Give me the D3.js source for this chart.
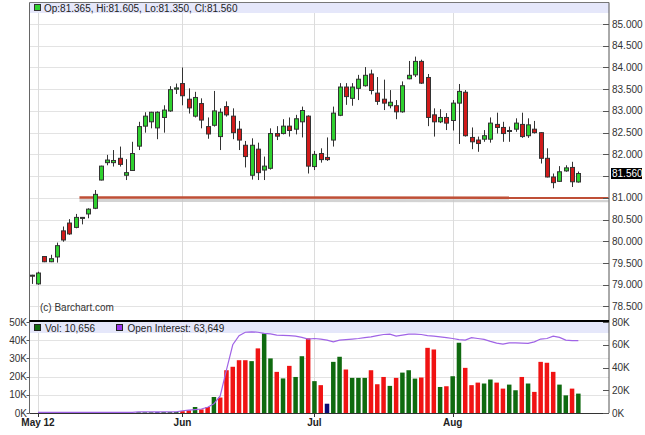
<!DOCTYPE html>
<html><head><meta charset="utf-8">
<script src="https://cdn.jsdelivr.net/npm/d3@7"></script>
<style>body{margin:0;background:#fff}svg{display:block;font-family:"Liberation Sans",Arial,sans-serif}</style>
</head><body><svg id="c" width="645" height="435"></svg>
<script>
// ---- data ----
const opens  = [79.22,79.02,79.65,79.53,79.64,80.24,80.42,80.32,80.55,80.63,80.76,81.41,81.81,81.81,81.91,81.52,81.63,82.19,82.65,82.75,82.61,82.85,83.00,83.50,83.63,83.27,82.88,83.17,82.64,82.67,82.41,83.10,82.88,82.58,82.21,81.52,82.12,81.64,81.68,82.48,82.48,82.65,82.58,82.75,82.88,81.72,82.02,81.93,82.33,82.90,83.55,83.29,83.52,83.58,83.85,83.41,83.27,83.12,83.12,82.98,83.74,83.83,84.14,83.77,82.91,82.75,82.85,82.78,83.18,83.43,82.39,82.33,82.35,82.35,82.69,82.62,82.55,82.58,82.69,82.43,82.58,82.50,81.91,81.48,81.38,81.62,81.70,81.365];
const highs  = [79.23,79.30,79.66,79.69,79.97,80.34,80.51,80.63,80.56,80.76,81.18,81.74,81.99,82.10,82.18,81.89,82.29,82.75,82.97,82.98,82.99,83.13,83.57,83.63,84.00,83.52,83.44,83.29,82.85,83.46,83.06,83.22,83.06,82.77,82.31,82.37,82.27,81.95,82.60,82.65,82.81,82.85,82.91,83.10,82.90,82.08,82.14,82.39,83.10,83.64,83.64,83.64,83.83,84.01,83.95,83.78,83.72,83.48,83.25,83.68,84.15,84.25,84.18,83.85,83.06,83.04,82.95,83.25,83.62,83.48,82.62,82.41,82.56,82.85,82.96,82.75,82.64,82.83,82.96,82.83,82.77,82.51,82.14,81.56,81.73,81.75,81.83,81.605];
const lows   = [79.02,79.00,79.52,79.52,79.51,79.99,80.15,80.30,80.39,80.53,80.74,81.40,81.75,81.72,81.72,81.41,81.62,82.10,82.50,82.60,82.35,82.50,82.98,83.39,83.13,82.94,82.85,82.60,82.36,82.64,82.10,82.87,82.35,82.10,81.70,81.42,81.41,81.41,81.65,82.33,82.46,82.41,82.46,82.39,81.56,81.64,81.81,81.85,82.18,82.88,83.14,83.12,83.25,83.56,83.38,83.14,83.02,83.06,82.81,82.96,83.73,83.78,83.62,82.65,82.41,82.72,82.56,82.55,82.24,82.41,82.12,82.06,82.29,82.27,82.48,82.29,82.29,82.52,82.38,82.38,82.48,81.79,81.47,81.22,81.37,81.60,81.25,81.35];
const closes = [79.21,79.27,79.53,79.60,79.90,80.03,80.17,80.55,80.55,80.74,81.08,81.73,81.87,81.86,81.77,81.58,82.02,82.64,82.88,82.97,82.97,83.02,83.49,83.53,83.35,83.07,83.31,82.79,82.47,83.00,82.97,82.91,82.50,82.33,81.95,82.21,81.58,81.73,82.48,82.42,82.65,82.55,82.82,83.01,81.73,82.00,81.88,81.88,82.95,83.55,83.33,83.55,83.73,83.82,83.47,83.22,83.18,83.20,82.98,83.58,83.82,84.14,83.64,82.85,82.75,82.85,82.72,83.18,83.45,82.43,82.29,82.25,82.43,82.72,82.62,82.48,82.55,82.72,82.41,82.68,82.50,81.91,81.48,81.35,81.60,81.69,81.37,81.56];
const volumeK = [0,0,0,0,0,0,0,0,0,0,0,0,0,0,0,0,0,0.4,0.4,0.4,0.4,0.5,0.5,0.6,1.0,1.5,3.3,2.0,3.3,8.8,8.5,23.5,25.4,29,29,28.5,35.5,43.7,30,22.6,19,25.9,19.8,31.2,41,17.5,15.3,5.1,28.1,30.9,23.9,19.3,19.3,19.3,23.5,15.8,19.8,14.9,19.3,22.2,23.5,18.9,19.5,35.8,34.9,14.3,14.7,20.2,38.6,24.8,15.3,16.7,16.2,18.4,16.7,13.4,15.6,12.5,19.8,16.2,11.6,28.1,27.6,22.6,15.6,9.7,13.4,10.656];
const openInterestK = [0.5,0.5,0.5,0.5,0.5,0.5,0.5,0.5,0.5,0.5,0.5,0.5,0.5,0.5,0.5,0.5,0.5,1.0,1.0,1.0,1.0,1.0,1.0,1.0,2.0,2.5,3.0,3.5,5.0,8.0,15,38,60,68,71,71.4,71,70,69.5,68.5,68.2,68,67.5,66.5,65,65.5,65,64,62.6,64,64.5,65,65.5,66.2,67,68,69,69.4,67.6,68.5,69.4,69.3,69,68,67.6,67,66.2,65.5,64.5,64.1,66.2,65.5,64.7,63,61.5,60.6,61.7,61.7,61.5,61.2,62.5,65,65.5,67.6,66.5,64.1,63.6,63.649];
const monthTickIndex  = [1, 24, 45, 67];
const monthTickLabels = ["May 12", "Jun", "Jul", "Aug"];
const priceTicks = [78.5,79,79.5,80,80.5,81,81.5,82,82.5,83,83.5,84,84.5,85];
const volTicksK  = [0,10,20,30,40,50];
const oiTicksK   = [0,20,40,60,80];
const supportLine = [{i:7.6, p:81.01}, {i:91.8, p:81.0}];

// ---- layout ----
const svg = d3.select("#c");
const L = 29.5, R = 609, TOP = 3, VTOP = 321, VBOT = 413;
const x  = d3.scaleLinear().domain([-0.35, 91.88]).range([L, R]);
const y  = d3.scaleLinear().domain([78.212, 85.484]).range([319, TOP]);
const vy = d3.scaleLinear().domain([0, 50]).range([VBOT, 322]);
const oy = d3.scaleLinear().domain([0, 80]).range([VBOT, 322]);
const px = v => Math.round(v) + 0.5;
const n = closes.length;
const idx = d3.range(n);

const GREEN = "#2fd12f", RED = "#d11a1a", VGREEN = "#0f6a0f", VRED = "#f01313", VNAVY = "#0b0b72";
const OI = "#a064e6", BAND = "#e5e7fa", GRID = "#e3e3e3";

// grids
const g = svg.append("g");
g.selectAll(".hg").data(priceTicks).join("line")
  .attr("x1", L).attr("x2", R).attr("y1", d => px(y(d))).attr("y2", d => px(y(d)))
  .attr("stroke", GRID);
g.selectAll(".vg").data(volTicksK.slice(1, -1)).join("line")
  .attr("x1", L).attr("x2", R).attr("y1", d => px(vy(d))).attr("y2", d => px(vy(d)))
  .attr("stroke", GRID);
g.selectAll(".mg").data(monthTickIndex).join("line")
  .attr("x1", d => px(x(d))).attr("x2", d => px(x(d))).attr("y1", TOP).attr("y2", VBOT)
  .attr("stroke", "#dcdcdc");

// legend bands
svg.append("rect").attr("x", L).attr("y", TOP).attr("width", R - L).attr("height", 10).attr("fill", BAND);
svg.append("rect").attr("x", L).attr("y", 322).attr("width", R - L).attr("height", 11).attr("fill", BAND);

// support trend line with shadow
const sl = d3.line().x(d => x(d.i)).y(d => y(d.p));
svg.append("path").datum(supportLine).attr("d", sl).attr("fill", "none")
  .attr("stroke", "#c8c8c8").attr("stroke-width", 3).attr("transform", "translate(0,3)").attr("opacity", 0.8);
svg.append("path").datum(supportLine).attr("d", sl).attr("fill", "none")
  .attr("stroke", "#bf4f36").attr("stroke-width", 2.5);

// candles
const cg = svg.append("g");
cg.selectAll("line").data(idx).join("line")
  .attr("x1", i => px(x(i))).attr("x2", i => px(x(i)))
  .attr("y1", i => y(highs[i])).attr("y2", i => y(lows[i]))
  .attr("stroke", "#333").attr("stroke-width", 1);
cg.selectAll("rect").data(idx).join("rect")
  .attr("x", i => Math.round(x(i)) - 2 + 0.5)
  .attr("width", 4)
  .attr("y", i => Math.min(y(opens[i]), y(closes[i])))
  .attr("height", i => Math.max(1, Math.abs(y(opens[i]) - y(closes[i]))))
  .attr("fill", i => closes[i] >= opens[i] ? GREEN : RED)
  .attr("stroke", "#333").attr("stroke-width", 1);

// volume bars
svg.append("g").selectAll("rect").data(idx.filter(i => volumeK[i] > 0)).join("rect")
  .attr("x", i => x(i) - 2.25).attr("width", 4.5)
  .attr("y", i => vy(volumeK[i])).attr("height", i => VBOT - vy(volumeK[i]))
  .attr("fill", i => i === 0 || closes[i] === closes[i - 1] ? VNAVY : (closes[i] > closes[i - 1] ? VGREEN : VRED));

// open interest line
svg.append("path").datum(idx.slice(1)).attr("fill", "none").attr("stroke", OI).attr("stroke-width", 1.2)
  .attr("d", d3.line().x(i => x(i)).y(i => oy(openInterestK[i])));

// frame lines
svg.append("line").attr("x1", L).attr("x2", R).attr("y1", 2.5).attr("y2", 2.5).attr("stroke", "#777");
svg.append("line").attr("x1", L).attr("x2", L).attr("y1", 2.5).attr("y2", VBOT).attr("stroke", "#666");
svg.append("line").attr("x1", R).attr("x2", R).attr("y1", 2.5).attr("y2", VBOT).attr("stroke", "#555");
svg.append("line").attr("x1", L).attr("x2", R).attr("y1", VTOP).attr("y2", VTOP).attr("stroke", "#000").attr("stroke-width", 2);
svg.append("line").attr("x1", L).attr("x2", R).attr("y1", VBOT + 0.5).attr("y2", VBOT + 0.5).attr("stroke", "#333");

// right price axis (the label hidden behind the last-price box is skipped, as in the reference)
const last = closes[n - 1];
const ra = svg.append("g").attr("font-size", 10).attr("fill", "#333");
ra.selectAll("line").data(priceTicks).join("line")
  .attr("x1", R - 6).attr("x2", R).attr("y1", d => px(y(d))).attr("y2", d => px(y(d))).attr("stroke", "#555");
ra.selectAll("text").data(priceTicks.filter(d => Math.abs(y(d) - y(last)) > 11)).join("text")
  .attr("x", 612).attr("y", d => y(d) + 3.5).text(d => d3.format(".3f")(d));
svg.append("rect").attr("x", 611).attr("y", y(last) - 5.5).attr("width", 31).attr("height", 11).attr("fill", "#000");
svg.append("text").attr("x", 612).attr("y", y(last) + 3.5).attr("font-size", 10).attr("fill", "#fff")
  .text(d3.format(".3f")(last));

// volume axes
const la = svg.append("g").attr("font-size", 10).attr("fill", "#333");
la.selectAll("text").data(volTicksK).join("text")
  .attr("x", 27).attr("y", d => vy(d) + 3.5).attr("text-anchor", "end").text(d => d + "K");
la.selectAll("line").data(volTicksK).join("line")
  .attr("x1", L - 3).attr("x2", L).attr("y1", d => px(vy(d))).attr("y2", d => px(vy(d))).attr("stroke", "#555");
const ora = svg.append("g").attr("font-size", 10).attr("fill", "#333");
ora.selectAll("text").data(oiTicksK).join("text")
  .attr("x", 612).attr("y", d => oy(d) + 3.5).text(d => d + "K");
ora.selectAll("line").data(oiTicksK).join("line")
  .attr("x1", R - 6).attr("x2", R).attr("y1", d => px(oy(d))).attr("y2", d => px(oy(d))).attr("stroke", "#555");

// month axis
const ma = svg.append("g");
ma.selectAll("line").data(monthTickIndex).join("line")
  .attr("x1", d => px(x(d))).attr("x2", d => px(x(d))).attr("y1", VBOT).attr("y2", VBOT + 4).attr("stroke", "#333");
ma.selectAll("text").data(monthTickIndex).join("text")
  .attr("x", d => x(d)).attr("y", 426).attr("text-anchor", "middle")
  .attr("font-size", 10).attr("font-weight", "bold").attr("fill", "#222")
  .text((d, k) => monthTickLabels[k]);

// legends
const f3 = d3.format(".3f");
svg.append("rect").attr("x", 34.5).attr("y", 4.5).attr("width", 6).attr("height", 6).attr("fill", GREEN).attr("stroke", "#333");
svg.append("text").attr("x", 44).attr("y", 11.5).attr("font-size", 10).attr("fill", "#222")
  .text(`Op:${f3(opens[n-1])}, Hi:${f3(highs[n-1])}, Lo:${f3(lows[n-1])}, Cl:${f3(closes[n-1])}`);
svg.append("text").attr("x", 40).attr("y", 311).attr("font-size", 10).attr("fill", "#333").text("(c) Barchart.com");
svg.append("rect").attr("x", 34.5).attr("y", 324.5).attr("width", 6).attr("height", 6).attr("fill", VGREEN).attr("stroke", "#222");
svg.append("text").attr("x", 45).attr("y", 331.5).attr("font-size", 10).attr("fill", "#222")
  .text("Vol: " + d3.format(",")(Math.round(volumeK[n-1] * 1000)));
svg.append("rect").attr("x", 116.5).attr("y", 324.5).attr("width", 6).attr("height", 6).attr("fill", "#9933ee").attr("stroke", "#222");
svg.append("text").attr("x", 127.5).attr("y", 331.5).attr("font-size", 10).attr("fill", "#222")
  .text("Open Interest: " + d3.format(",")(Math.round(openInterestK[n-1] * 1000)));
</script></body></html>
